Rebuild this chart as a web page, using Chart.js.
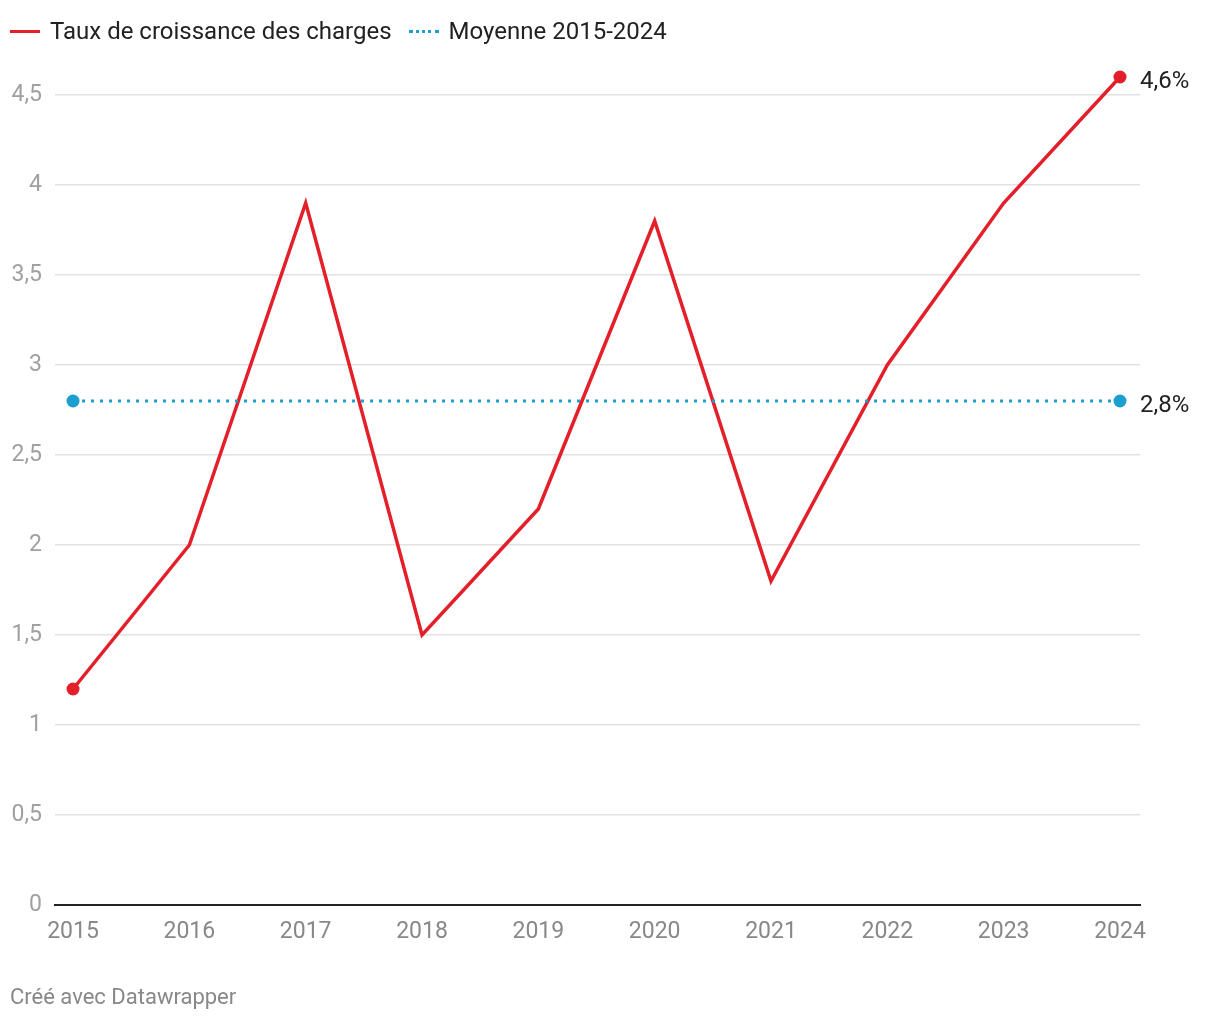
<!DOCTYPE html>
<html lang="fr">
<head>
<meta charset="utf-8">
<script src="https://cdn.jsdelivr.net/npm/chart.js@4/dist/chart.umd.min.js"></script>
<style>
    html, body { margin: 0; padding: 0; background: #fff; }
    body { width: 1220px; height: 1020px; position: relative; overflow: hidden; font-family: Roboto, sans-serif; }
    #wrap { position: absolute; left: 0; top: 0; width: 1220px; height: 1020px; }
    .legend { position: absolute; left: 10px; top: 17px; display: flex; align-items: center; font-size: 24px; color: #222; }
    .legend .item { display: flex; align-items: center; margin-right: 17px; }
    .legend .swatch { width: 30px; height: 0; margin-right: 10px; }
    .legend .solid { border-top: 3.5px solid #e3202a; }
    .legend .dotted { border-top: 3px dotted #1a9fd0; }
    .footer { position: absolute; left: 10px; top: 984px; font-size: 22px; color: #888; }
</style>
</head>
<body>
<div id="wrap"><canvas id="growthChart" width="1220" height="1020"></canvas></div>
<div class="legend">
    <div class="item"><span class="swatch solid"></span>Taux de croissance des charges</div>
    <div class="item"><span class="swatch dotted"></span>Moyenne 2015-2024</div>
</div>
<div class="footer">Créé avec Datawrapper</div>
<script>
// Données
const years = [2015, 2016, 2017, 2018, 2019, 2020, 2021, 2022, 2023, 2024];
const growthRates = [1.2, 2.0, 3.9, 1.5, 2.2, 3.8, 1.8, 3.0, 3.9, 4.6];
const meanYears = [2015, 2024];
const meanValues = [2.8, 2.8];
const yTicks = [0, 0.5, 1, 1.5, 2, 2.5, 3, 3.5, 4, 4.5];

const RED = '#e3202a';
const BLUE = '#1a9fd0';

const fmt = (v) => String(v).replace('.', ',');

// Étiquettes de fin de série
const endLabels = {
    id: 'endLabels',
    afterDatasetsDraw(chart) {
        const ctx = chart.ctx;
        ctx.save();
        ctx.font = '24px Roboto';
        ctx.fillStyle = '#222';
        ctx.textBaseline = 'middle';
        ctx.textAlign = 'left';
        chart.data.datasets.forEach((ds, i) => {
            const meta = chart.getDatasetMeta(i);
            const last = meta.data[meta.data.length - 1];
            const val = ds.data[ds.data.length - 1].y;
            ctx.fillText(fmt(val.toFixed(1)) + '%', last.x + 20, last.y + 5);
        });
        ctx.restore();
    }
};

const ctx = document.getElementById('growthChart').getContext('2d');
new Chart(ctx, {
    type: 'line',
    data: {
        datasets: [
            {
                label: 'Moyenne 2015-2024',
                data: meanYears.map((x, i) => ({ x, y: meanValues[i] })),
                borderColor: BLUE,
                backgroundColor: BLUE,
                borderWidth: 3,
                borderDash: [3, 6],
                pointRadius: 6.5,
                pointBorderWidth: 0,
                pointHoverRadius: 6.5,
                clip: false
            },
            {
                label: 'Taux de croissance des charges',
                data: years.map((x, i) => ({ x, y: growthRates[i] })),
                borderColor: RED,
                backgroundColor: RED,
                borderWidth: 3.5,
                tension: 0,
                pointRadius: (c) => (c.dataIndex === 0 || c.dataIndex === years.length - 1) ? 6.5 : 0,
                pointBorderWidth: 0,
                clip: false
            }
        ]
    },
    options: {
        responsive: false,
        animation: false,
        layout: { padding: { left: 0, right: 80, top: 77, bottom: 75 } },
        plugins: {
            legend: { display: false },
            tooltip: { enabled: false }
        },
        scales: {
            x: {
                type: 'linear',
                min: 2014.845,
                max: 2024.172,
                afterBuildTicks: (scale) => { scale.ticks = years.map(v => ({ value: v })); },
                afterFit: (scale) => { scale.height = 40; },
                grid: { display: false, drawTicks: false },
                border: { display: true, color: '#222', width: 2 },
                ticks: {
                    color: '#888',
                    padding: 13,
                    font: { family: 'Roboto', size: 23 },
                    callback: (v) => String(v)
                }
            },
            y: {
                min: 0,
                max: 4.6,
                afterBuildTicks: (scale) => { scale.ticks = yTicks.map(v => ({ value: v })); },
                afterFit: (scale) => { scale.width = 55; },
                grid: { color: '#e2e2e2', lineWidth: 1.5, drawTicks: false },
                border: { display: false },
                ticks: {
                    color: '#a0a0a0',
                    padding: 13,
                    font: { family: 'Roboto', size: 23 },
                    callback: (v) => fmt(v)
                }
            }
        }
    },
    plugins: [endLabels]
});
</script>
</body>
</html>
